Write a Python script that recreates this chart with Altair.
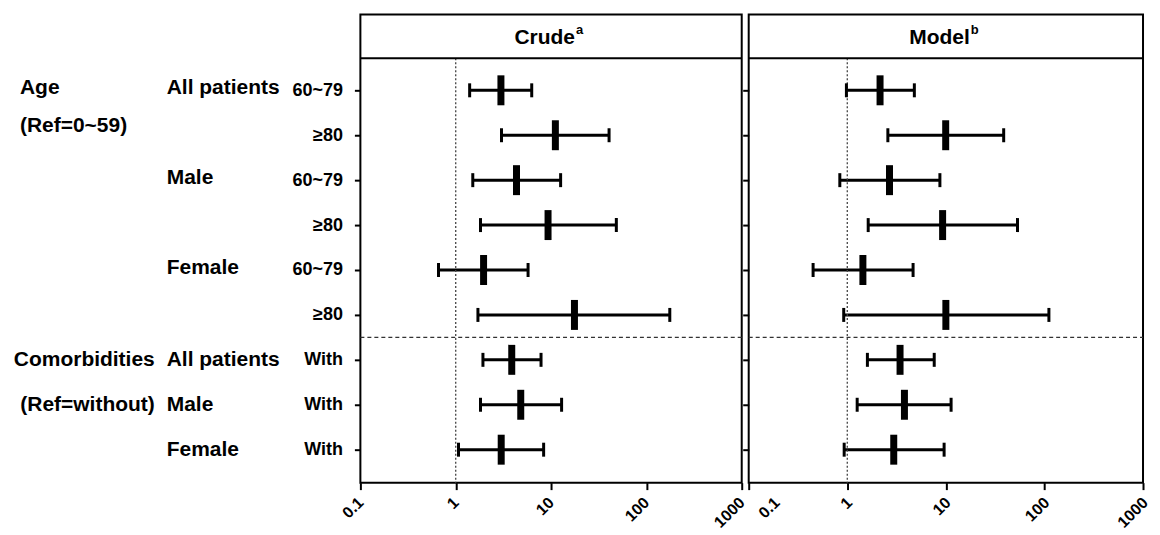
import altair as alt
import pandas as pd

# ---------------- data ----------------
ROWS = [0, 1, 2, 3, 4, 5, 6, 7, 8]
LEVELS = ["60~79", "≥80", "60~79", "≥80", "60~79", "≥80", "With", "With", "With"]

CRUDE_OR = [2.98, 11.1, 4.34, 9.3, 1.96, 17.6, 3.87, 4.81, 3.0]
CRUDE_LO = [1.40, 3.02, 1.51, 1.82, 0.66, 1.71, 1.93, 1.82, 1.07]
CRUDE_HI = [6.27, 40.6, 12.6, 48.4, 5.74, 176, 7.85, 12.9, 8.36]

MODEL_OR = [2.15, 9.96, 2.68, 9.27, 1.44, 10.0, 3.43, 3.80, 2.96]
MODEL_LO = [0.98, 2.58, 0.84, 1.63, 0.45, 0.92, 1.60, 1.26, 0.93]
MODEL_HI = [4.79, 38.6, 8.7, 53.3, 4.65, 111, 7.62, 11.3, 9.6]

AGE_LABELS = ["Age", "(Ref=0~59)"]
AGE_ROWS = [-0.05, 0.8]
COMORB_LABELS = ["Comorbidities", "(Ref=without)"]
COMORB_ROWS = [6, 7]
SUB_LABELS = ["All patients", "Male", "Female", "All patients", "Male", "Female"]
SUB_ROWS = [-0.05, 1.95, 3.95, 6, 7, 8]

X_TICKS = [0.1, 1, 10, 100, 1000]
SEPARATOR_ROW = 5.5
REF_VALUE = 1

# ---------------- layout constants ----------------
H = 469
HEADER_H = 44
Y_DOMAIN = [-76 / 45, (H - 76) / 45]
FONT = "Liberation Sans"

level_expr = "[" + ",".join("'" + s + "'" for s in LEVELS) + "][datum.value]"


def yaxis(show_labels):
    return alt.Axis(values=ROWS, labelExpr=level_expr, labels=show_labels,
                    tickSize=6, tickWidth=2, tickColor="black", domain=False,
                    grid=False, title=None, labelFontSize=18, labelFont=FONT,
                    labelFontWeight="bold", labelColor="black", labelPadding=12)


def yenc(field, show_labels):
    return alt.Y(f"{field}:Q",
                 scale=alt.Scale(domain=Y_DOMAIN, reverse=True, nice=False, zero=False),
                 axis=yaxis(show_labels))


def xscale():
    return alt.Scale(type="log", domain=[0.1, 1000], nice=False)


def make_panel(est, lo, hi, title, sup, W, first):
    df = pd.DataFrame({"row": ROWS, "est": est, "lo": lo, "hi": hi})
    base = alt.Chart(df)
    xa = dict(values=X_TICKS, format="~g", labelAngle=315, labelAlign="right",
              labelBaseline="middle", labelFontSize=16, labelFont=FONT,
              labelFontWeight="bold", labelColor="black", tickSize=7, tickWidth=2,
              tickColor="black", domain=False, grid=False, title=None,
              labelPadding=10, labelFlush=False, labelOverlap=False, labelBound=False)
    if not first:
        xa["labelOffset"] = {"condition": {"test": "datum.value < 0.5", "value": 28}, "value": 2}
    xaxis = alt.Axis(**xa)

    def X(f):
        return alt.X(f"{f}:Q", scale=xscale(), axis=xaxis)

    bars = base.mark_rule(color="black", strokeWidth=3).encode(
        x=X("lo"), x2="hi:Q", y=yenc("row", first))
    cap_lo = base.mark_tick(orient="vertical", size=14, thickness=3, color="black", opacity=1).encode(
        x=X("lo"), y=yenc("row", first))
    cap_hi = base.mark_tick(orient="vertical", size=14, thickness=3, color="black", opacity=1).encode(
        x=X("hi"), y=yenc("row", first))
    pt = base.mark_tick(orient="vertical", size=30, thickness=7, color="black", opacity=1).encode(
        x=X("est"), y=yenc("row", first))

    ref = alt.Chart(pd.DataFrame({"v": [REF_VALUE]})).mark_rule(
        color="#444", strokeWidth=1.3, strokeDash=[2, 2]).encode(
        x=X("v"), y=alt.value(HEADER_H), y2=alt.value(H))
    sep = alt.Chart(pd.DataFrame({"row": [SEPARATOR_ROW]})).mark_rule(
        color="#333", strokeWidth=1.2, strokeDash=[4, 3]).encode(
        y=yenc("row", first), x=alt.value(0), x2=alt.value(W))
    head_line = alt.Chart(pd.DataFrame({"r": [0]})).mark_rule(
        color="black", strokeWidth=2).encode(
        y=alt.value(HEADER_H), x=alt.value(0), x2=alt.value(W))
    head = alt.Chart(pd.DataFrame({"t": [title]})).mark_text(
        font=FONT, fontSize=21, fontWeight="bold", align="right", baseline="middle", color="black").encode(
        text="t:N", x=alt.value(W / 2 + 24), y=alt.value(24))
    head_sup = alt.Chart(pd.DataFrame({"t": [sup]})).mark_text(
        font=FONT, fontSize=13, fontWeight="bold", align="left", baseline="middle", color="black").encode(
        text="t:N", x=alt.value(W / 2 + 25), y=alt.value(16))

    layers = [bars, ref, sep, head_line, cap_lo, cap_hi, pt, head, head_sup]

    if first:
        age = alt.Chart(pd.DataFrame({"t": AGE_LABELS, "row": AGE_ROWS})).mark_text(
            font=FONT, fontSize=21, fontWeight="bold", align="left", baseline="middle", color="black").encode(
            text="t:N", x=alt.value(-341), y=yenc("row", first))
        com = alt.Chart(pd.DataFrame({"t": COMORB_LABELS, "row": COMORB_ROWS})).mark_text(
            font=FONT, fontSize=21, fontWeight="bold", align="right", baseline="middle", color="black").encode(
            text="t:N", x=alt.value(-206), y=yenc("row", first))
        sub = alt.Chart(pd.DataFrame({"t": SUB_LABELS, "row": SUB_ROWS})).mark_text(
            font=FONT, fontSize=21, fontWeight="bold", align="left", baseline="middle", color="black").encode(
            text="t:N", x=alt.value(-194), y=yenc("row", first))
        layers += [age, com, sub]

    return alt.layer(*layers).properties(width=W, height=H)


p1 = make_panel(CRUDE_OR, CRUDE_LO, CRUDE_HI, "Crude", "a", 382, True)
p2 = make_panel(MODEL_OR, MODEL_LO, MODEL_HI, "Model", "b", 395, False)

chart = alt.hconcat(p1, p2, spacing=7, bounds="flush",
                    padding={"left": 4, "top": 5, "right": 0, "bottom": 0}).configure_view(
    stroke="black", strokeWidth=2)

chart.save("out.html", embed_options={"renderer": "svg", "actions": False})
